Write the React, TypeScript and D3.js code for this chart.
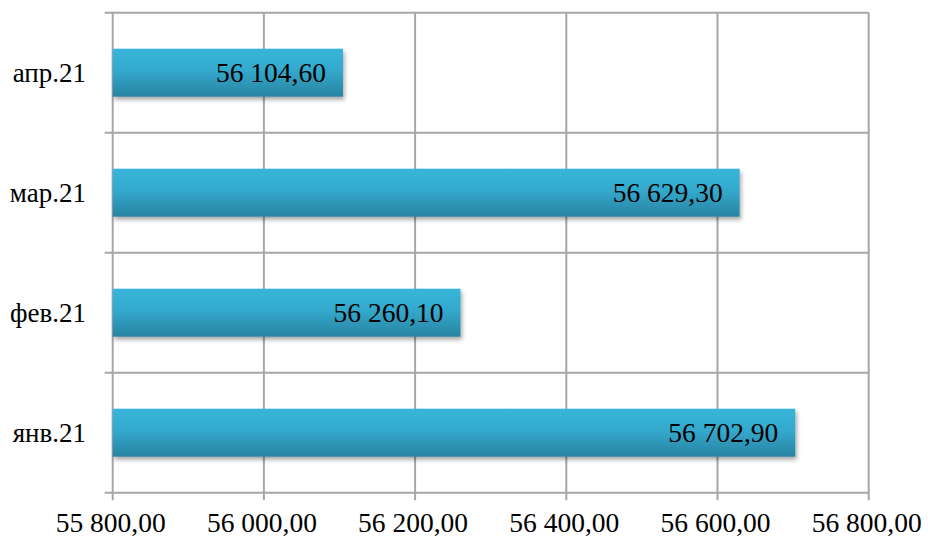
import React from "react";
import * as d3 from "d3";

const categories = ["апр.21", "мар.21", "фев.21", "янв.21"];
const values = [56104.6, 56629.3, 56260.1, 56702.9];
const xTicks = [55800, 56000, 56200, 56400, 56600, 56800];

const W = 928;
const H = 537;
const left = 112.7;
const right = 868.7;
const top = 12.7;
const bottom = 492.7;

const fmt = (v: number) => {
  const s = v.toFixed(2).replace(".", ",");
  const [i, f] = s.split(",");
  const ii = i.replace(/\B(?=(\d{3})+(?!\d))/g, " ");
  return ii + "," + f;
};

export default function App() {
  const x = d3.scaleLinear().domain([55800, 56800]).range([left, right]);
  const y = d3
    .scaleBand<string>()
    .domain(categories)
    .range([top, bottom])
    .paddingInner(0.6)
    .paddingOuter(0.3);
  const step = y.step();
  const boundaries = d3.range(categories.length + 1).map((i) => top + i * step);
  const grid = "#a6a6a6";
  const font = "Liberation Serif, Tinos, Times New Roman, DejaVu Serif, serif";

  return (
    <svg
      width={W}
      height={H}
      style={{ position: "absolute", left: 0, top: 0, background: "#fff", fontFamily: font }}
    >
      <defs>
        <linearGradient id="barGrad" x1="0" y1="0" x2="0" y2="1">
          <stop offset="0" stopColor="#38b5da" />
          <stop offset="0.45" stopColor="#33a9cd" />
          <stop offset="1" stopColor="#2983a1" />
        </linearGradient>
        <filter id="shadow" x="-5%" y="-20%" width="115%" height="160%">
          <feDropShadow dx="1.5" dy="3" stdDeviation="2.2" floodColor="#000" floodOpacity="0.35" />
        </filter>
      </defs>

      {xTicks.map((t) => (
        <line key={"v" + t} x1={x(t)} x2={x(t)} y1={top} y2={bottom + 7.5} stroke={grid} strokeWidth={2} />
      ))}
      {boundaries.map((b, i) => (
        <line key={"h" + i} x1={left - 8} x2={right} y1={b} y2={b} stroke={grid} strokeWidth={2} />
      ))}

      {categories.map((c, i) => (
        <rect
          key={c}
          x={x(55800)}
          y={y(c)}
          width={x(values[i]) - x(55800)}
          height={y.bandwidth()}
          fill="url(#barGrad)"
          filter="url(#shadow)"
        />
      ))}

      {categories.map((c, i) => (
        <text
          key={"l" + c}
          x={x(values[i]) - 17}
          y={(y(c) as number) + y.bandwidth() / 2 + 9.5}
          textAnchor="end"
          fontSize={27.5}
          fill="#000"
          style={{ fontFamily: font }}
        >
          {fmt(values[i])}
        </text>
      ))}

      {categories.map((c) => (
        <text
          key={"c" + c}
          x={86}
          y={(y(c) as number) + y.bandwidth() / 2 + 9.5}
          textAnchor="end"
          fontSize={27}
          fill="#000"
          style={{ fontFamily: font }}
        >
          {c}
        </text>
      ))}

      {xTicks.map((t) => (
        <text
          key={"t" + t}
          x={x(t) - 2}
          y={532}
          textAnchor="middle"
          fontSize={27.5}
          fill="#000"
          style={{ fontFamily: font }}
        >
          {fmt(t)}
        </text>
      ))}
    </svg>
  );
}
